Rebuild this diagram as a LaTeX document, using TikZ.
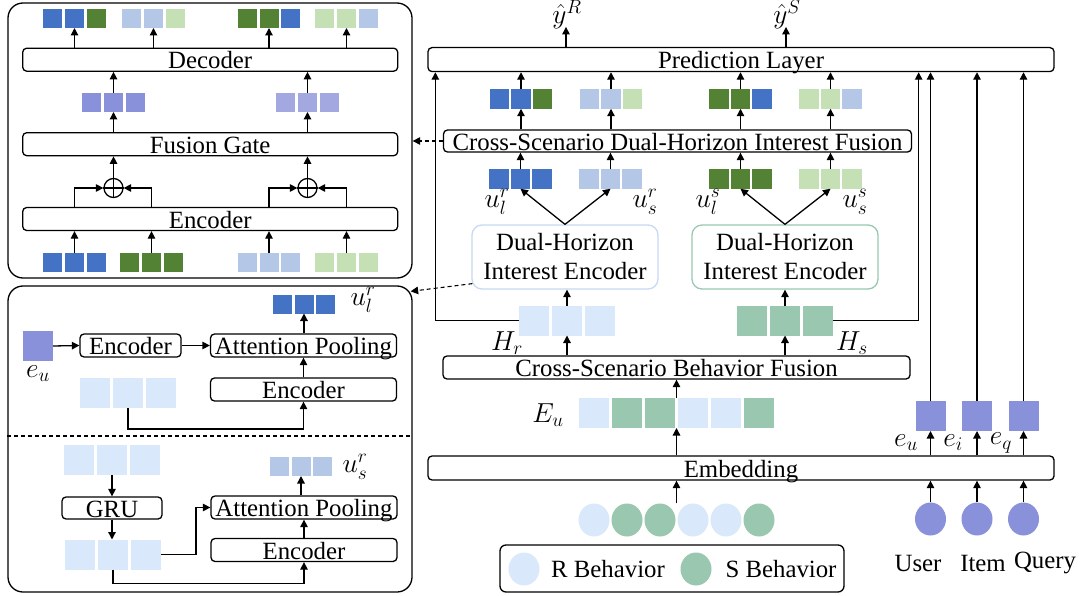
\RequirePackage{fix-cm}
\documentclass[tikz,border=0pt]{standalone}
\usepackage{fontspec}
\setmainfont{Liberation Serif}
\usetikzlibrary{arrows.meta,calc,shapes.geometric}
\definecolor{cB}{HTML}{4472C4}
\definecolor{cG}{HTML}{548235}
\definecolor{cLB}{HTML}{B4C7E7}
\definecolor{cLG}{HTML}{C5E0B4}
\definecolor{cP}{HTML}{8A91DB}
\definecolor{cPtwo}{HTML}{A3A9E0}
\definecolor{cR}{HTML}{DAE8FC}
\definecolor{cS}{HTML}{9AC7AF}
\definecolor{cRborder}{HTML}{C6D9F5}
\newcommand\SqGroup[8]{%
  \node[sq,minimum size=#4,fill=#6] (#1a) at ({#2-#5},#3) {};
  \node[sq,minimum size=#4,fill=#7] (#1b) at (#2,#3) {};
  \node[sq,minimum size=#4,fill=#8] (#1c) at ({#2+#5},#3) {};}
\begin{document}
\begin{tikzpicture}[x=1pt,y=-1pt,
  font=\fontsize{24.8pt}{28pt}\selectfont,
  box/.style={draw, line width=1.3pt, rounded corners=4pt, inner sep=0pt, text height=18.5pt, text depth=0pt},
  sq/.style={inner sep=0pt, outer sep=0pt, draw=none},
  ell/.style={ellipse, inner sep=0pt, draw=none, minimum width=31pt, minimum height=33pt},
  panel/.style={draw, line width=1.3pt, rounded corners=15pt, inner sep=0pt},
  arr/.style={-{Triangle[length=7.5pt,width=7.5pt]}, line width=1.3pt},
  dasharr/.style={-{Triangle[length=7.5pt,width=7.5pt]}, line width=1.1pt, dash pattern=on 4pt off 3pt},
  lbl/.style={inner sep=0pt},
  mlbl/.style={inner sep=0pt, font=\fontsize{27.5pt}{30pt}\selectfont}]
\useasboundingbox (0,0) rectangle (1084,596);

% ================= top-left panel =================
\node[panel, minimum width=404, minimum height=275] (panA) at (210,140.5) {};
\SqGroup{ta}{74.5}{18.5}{19}{21.7}{cB}{cB}{cG}
\SqGroup{tb}{153.5}{18.5}{19}{21.7}{cLB}{cLB}{cLG}
\SqGroup{tc}{269}{18.5}{19}{21.7}{cG}{cG}{cB}
\SqGroup{td}{346.5}{18.5}{19}{21.7}{cLG}{cLG}{cLB}
\node[box, minimum width=375, minimum height=23] (dec) at (210.2,59.7) {Decoder};
\SqGroup{ma}{113.5}{102.5}{19}{22}{cP}{cP}{cP}
\SqGroup{mb}{307.5}{102.5}{19}{22}{cPtwo}{cPtwo}{cPtwo}
\node[box, minimum width=375, minimum height=23] (fg) at (210.2,144.2) {Fusion Gate};
\node[circle, draw, line width=1.3pt, minimum size=19, inner sep=0pt] (opa) at (113.5,188) {};
\node[circle, draw, line width=1.3pt, minimum size=19, inner sep=0pt] (opb) at (307.5,188) {};
\draw[line width=1.3pt] (opa.north) -- (opa.south) (opa.west) -- (opa.east);
\draw[line width=1.3pt] (opb.north) -- (opb.south) (opb.west) -- (opb.east);
\node[box, minimum width=375, minimum height=23] (enc) at (210.2,219) {Encoder};
\SqGroup{ba}{74.5}{262.5}{19}{21.7}{cB}{cB}{cB}
\SqGroup{bb}{151.5}{262.5}{19}{21.7}{cG}{cG}{cG}
\SqGroup{bc}{269}{262.5}{19}{21.7}{cLB}{cLB}{cLB}
\SqGroup{bd}{346.5}{262.5}{19}{21.7}{cLG}{cLG}{cLG}
\foreach \g in {ba,bb,bc,bd}{\draw[arr] (\g b.north) -- (\g b.north |- enc.south);}
\draw[arr] (bab.center |- enc.north) |- (opa.west);
\draw[arr] (bbb.center |- enc.north) |- (opa.east);
\draw[arr] (bcb.center |- enc.north) |- (opb.west);
\draw[arr] (bdb.center |- enc.north) |- (opb.east);
\draw[arr] (opa.north) -- (opa.north |- fg.south);
\draw[arr] (opb.north) -- (opb.north |- fg.south);
\foreach \g in {ma,mb}{\draw[arr] (\g b.south |- fg.north) -- (\g b.south);
  \draw[arr] (\g b.north) -- (\g b.north |- dec.south);}
\foreach \g in {ta,tb,tc,td}{\draw[arr] (\g b.south |- dec.north) -- (\g b.south);}

% ================= bottom-left panel =================
\node[panel, minimum width=404, minimum height=306] (panB) at (210,439) {};
\SqGroup{ul}{304}{304}{19}{21.5}{cB}{cB}{cB}
\node[mlbl] (ullab) at (363,300) {$u_l^r$};
\node[sq, minimum size=30, fill=cP] (eusq) at (38,346) {};
\node[mlbl] (eulab) at (38,374) {$e_u$};
\node[box, minimum width=101, minimum height=23] (encs) at (130.5,345.5) {Encoder};
\node[box, minimum width=186, minimum height=23] (atta) at (303.5,345.5) {Attention Pooling};
\node[box, minimum width=186, minimum height=23] (encb) at (303.5,389.5) {Encoder};
\SqGroup{la}{128}{393}{30}{33}{cR}{cR}{cR}
\draw[arr] (eusq.east) -- (encs.west);
\draw[arr] (encs.east) -- (atta.west);
\draw[arr] (encb.north) -- (atta.south);
\draw[arr] (atta.north -| ulb) -- (ulb.south);
\draw[arr] (lab.south) -- ++(0,21) -| (encb.south);
\draw[line width=1.1pt, dash pattern=on 4pt off 3pt] (panB.west |- 0,436) -- (panB.east |- 0,436);
\SqGroup{lb}{112}{460}{30}{33}{cR}{cR}{cR}
\node[box, minimum width=100, minimum height=22] (gru) at (112,508) {GRU};
\SqGroup{lc}{113}{554.5}{30}{33}{cR}{cR}{cR}
\node[box, minimum width=186, minimum height=23] (attb) at (304,507.5) {Attention Pooling};
\node[box, minimum width=186, minimum height=23] (encc) at (304,550) {Encoder};
\SqGroup{us}{301}{466.5}{19}{21.5}{cLB}{cLB}{cLB}
\node[mlbl] (uslab) at (355,467) {$u_s^r$};
\draw[arr] (lbb.south -| gru.north) -- (gru.north);
\draw[arr] (gru.south) -- (gru.south |- lcb.north);
\draw[arr] (lcc.east) -- ++(35,0) |- (attb.west);
\draw[arr] (encc.north) -- (attb.south);
\draw[arr] (attb.north -| usb) -- (usb.south);
\draw[arr] (lcb.south) -- ++(0,14) -| (encc.south);

% ================= right part =================
\node[box, minimum width=626, minimum height=24] (pred) at (741,59.6) {Prediction Layer};
\node[mlbl] (yr) at (567,15) {$\hat y^R$};
\node[mlbl] (ys) at (787,15) {$\hat y^S$};
\draw[arr] (pred.north -| 566,0) -- ++(0,-20);
\draw[arr] (pred.north -| 786,0) -- ++(0,-20);
\SqGroup{oa}{521}{99}{19.5}{21.5}{cB}{cB}{cG}
\SqGroup{ob}{611}{99}{19.5}{21.5}{cLB}{cLB}{cLG}
\SqGroup{oc}{740.5}{99}{19.5}{21.5}{cG}{cG}{cB}
\SqGroup{od}{830.5}{99}{19.5}{21.5}{cLG}{cLG}{cLB}
\node[box, minimum width=468, minimum height=22] (cs) at (677.5,141) {Cross-Scenario Dual-Horizon Interest Fusion};
\SqGroup{ua}{520.5}{179}{19.5}{21.5}{cB}{cB}{cB}
\SqGroup{ub}{610.5}{179}{19.5}{21.5}{cLB}{cLB}{cLB}
\SqGroup{uc}{740.5}{179}{19.5}{21.5}{cG}{cG}{cG}
\SqGroup{ud}{830.5}{179}{19.5}{21.5}{cLG}{cLG}{cLG}
\foreach \g in {a,b,c,d}{
  \draw[arr] (o\g b.north) -- (o\g b.north |- pred.south);
  \draw[arr] (o\g b.south |- cs.north) -- (o\g b.south);
  \draw[arr] (u\g b.north) -- (u\g b.north |- cs.south);}
\node[mlbl] at (497,202) {$u_l^r$};
\node[mlbl] at (645,202) {$u_s^r$};
\node[mlbl] at (708,202) {$u_l^s$};
\node[mlbl] at (855,202) {$u_s^s$};
\node[draw=cRborder, line width=1.3pt, rounded corners=10pt, minimum width=186, minimum height=64, align=center, inner sep=0pt] (dr) at (565,257) {Dual-Horizon\\[1pt]Interest Encoder};
\node[draw=cS, line width=1.3pt, rounded corners=10pt, minimum width=186, minimum height=64, align=center, inner sep=0pt] (ds) at (785,257) {Dual-Horizon\\[1pt]Interest Encoder};
\draw[arr] (dr.north) -- (uab.south);
\draw[arr] (dr.north) -- (ubb.south);
\draw[arr] (ds.north) -- (ucb.south);
\draw[arr] (ds.north) -- (udb.south);
\SqGroup{hr}{567}{320.5}{30}{33}{cR}{cR}{cR}
\SqGroup{hs}{785}{320.5}{30}{33}{cS}{cS}{cS}
\node[mlbl] at (507,343) {$H_r$};
\node[mlbl] at (852,343) {$H_s$};
\draw[arr] (hrb.north) -- (hrb.north |- dr.south);
\draw[arr] (hsb.north) -- (hsb.north |- ds.south);
\draw[arr] (hra.west) -| ([xshift=8pt]pred.south west);
\draw[arr] (hsc.east) -| ([xshift=-136pt]pred.south east);
\node[box, minimum width=467, minimum height=23] (csb) at (676.5,367.5) {Cross-Scenario Behavior Fusion};
\draw[arr] (hrb.south |- csb.north) -- (hrb.south);
\draw[arr] (hsb.south |- csb.north) -- (hsb.south);
% E_u row
\node[sq, minimum size=30, fill=cR] (eua) at (594,413) {};
\node[sq, minimum size=30, fill=cS] (eub) at (627,413) {};
\node[sq, minimum size=30, fill=cS] (euc) at (660,413) {};
\node[sq, minimum size=30, fill=cR] (eud) at (693,413) {};
\node[sq, minimum size=30, fill=cR] (eue) at (726,413) {};
\node[sq, minimum size=30, fill=cS] (euf) at (759,413) {};
\node[mlbl] at (548,415) {$E_u$};
\coordinate (eumid) at ($(euc.north)!0.5!(eud.north)$);
\draw[arr] (eumid) -- (eumid |- csb.south);
\node[box, minimum width=626, minimum height=24] (emb) at (741,468) {Embedding};
\draw[arr] (emb.north -| eumid) -- (euc.south -| eumid);
% behaviour circles
\node[ell, fill=cR] (bha) at (594,520) {};
\node[ell, fill=cS] (bhb) at (627,520) {};
\node[ell, fill=cS] (bhc) at (660,520) {};
\node[ell, fill=cR] (bhd) at (693,520) {};
\node[ell, fill=cR] (bhe) at (726,520) {};
\node[ell, fill=cS] (bhf) at (759,520) {};
\draw[arr] (bhc.north -| eumid) -- (emb.south -| eumid);
% user item query
\foreach \n/\x/\t/\lx in {u/930.5/User/918, i/977/Item/983, q/1023.5/Query/1045}{
  \node[sq, minimum size=30, fill=cP] (e\n) at (\x,416) {};
  \node[ell, minimum width=31, minimum height=33, fill=cP] (c\n) at (\x,519) {};
  \node[lbl] (t\n) at (\lx,563) {\t};
  \draw[arr] (c\n.north) -- (c\n.north |- emb.south);
  \draw[arr] (e\n.south |- emb.north) -- (e\n.south);
  \draw[arr] (e\n.north) -- (e\n.north |- pred.south);}
\node[mlbl] at (906,443) {$e_u$};
\node[mlbl] at (953,443) {$e_i$};
\node[mlbl] at (1001,443) {$e_q$};
% legend
\node[draw, line width=1.3pt, rounded corners=6pt, minimum width=344, minimum height=47, inner sep=0pt] (leg) at (672,568.5) {};
\node[ell, fill=cR] (lga) at (524,569) {};
\node[lbl] (lgat) at (608,569) {R Behavior};
\node[ell, fill=cS] (lgb) at (696,569) {};
\node[lbl] (lgbt) at (781,569) {S Behavior};
% dashed links
\draw[dasharr] (cs.west) -- (cs.west -| panA.east);
\draw[dasharr] ([shift={(1,-6)}]dr.south west) -- ([shift={(-2,6)}]panB.north east);
\end{tikzpicture}
\end{document}
